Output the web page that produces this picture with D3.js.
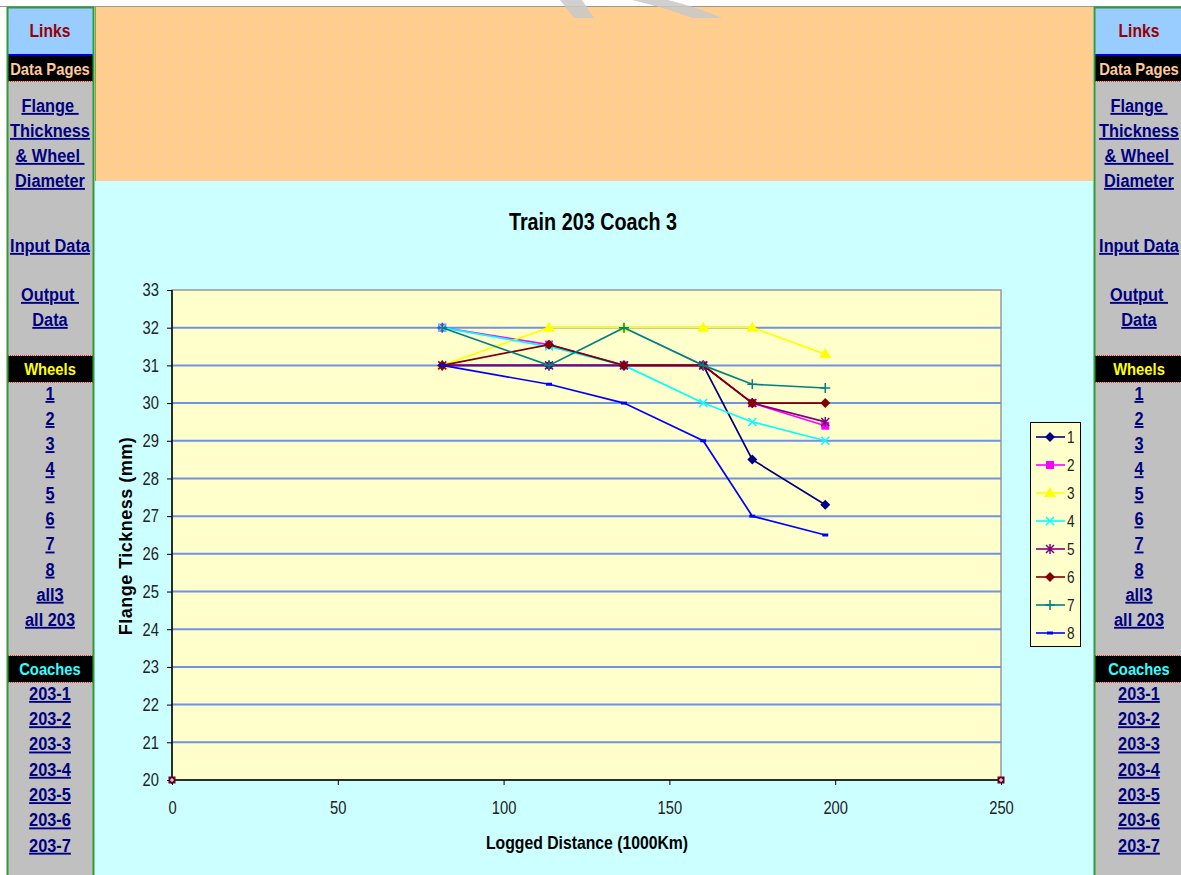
<!DOCTYPE html>
<html>
<head>
<meta charset="utf-8">
<script src="https://cdn.jsdelivr.net/npm/d3@7"></script>
<style>
html,body{margin:0;padding:0;background:#fff;overflow:hidden;}
svg{display:block;}
text{font-family:"Liberation Sans",Arial,sans-serif;}
.link{fill:#000080;text-decoration:underline;white-space:pre;font-weight:bold;}
</style>
</head>
<body>
<svg id="chart" width="1181" height="875"></svg>
<script>
// ---------------- DATA ----------------
const distances = [81.5, 113.7, 136.3, 160.2, 175, 197];
const seriesNames = ["1", "2", "3", "4", "5", "6", "7", "8"];
const wheel1 = [31, 31, 31, 31, 28.5, 27.3];
const wheel2 = [32, 31.55, 31, 31, 30, 29.4];
const wheel3 = [31, 32, 32, 32, 32, 31.3];
const wheel4 = [32, 31.5, 31, 30, 29.5, 29];
const wheel5 = [31, 31, 31, 31, 30, 29.5];
const wheel6 = [31, 31.55, 31, 31, 30, 30];
const wheel7 = [32, 31, 32, 31, 30.5, 30.4];
const wheel8 = [31, 30.5, 30, 29, 27, 26.5];
const cornerX = [0, 250];
const cornerY = [20, 20];
const xTicks = [0, 50, 100, 150, 200, 250];
const yTicks = [20, 21, 22, 23, 24, 25, 26, 27, 28, 29, 30, 31, 32, 33];
const titleText = "Train 203 Coach 3";
const xLabel = "Logged Distance (1000Km)";
const yLabel = "Flange Tickness (mm)";
const dataPageLinks = [["Flange ", "Thickness", "& Wheel ", "Diameter"], ["Input Data"], ["Output ", "Data"]];
const wheelLinks = ["1", "2", "3", "4", "5", "6", "7", "8", "all3", "all 203"];
const coachLinks = ["203-1", "203-2", "203-3", "203-4", "203-5", "203-6", "203-7"];

const allSeries = [wheel1, wheel2, wheel3, wheel4, wheel5, wheel6, wheel7, wheel8];
const colors = ["#000080", "#ff00ff", "#ffff00", "#00ffff", "#800080", "#800000", "#008080", "#0000ff"];
const markerTypes = ["diamond", "square", "triangle", "x", "star", "diamond", "plus", "dash"];

// ---------------- PAGE ----------------
const svg = d3.select("#chart");
const defs = svg.append("defs");
const pat = defs.append("pattern").attr("id", "dots").attr("width", 4).attr("height", 4).attr("patternUnits", "userSpaceOnUse");
pat.append("rect").attr("width", 4).attr("height", 4).attr("fill", "#ffcc99");
pat.append("rect").attr("x", 1).attr("y", 1).attr("width", 1).attr("height", 1).attr("fill", "#ffee00");

// narrow text helper: horizontally condensed text
function ntext(parent, x, y, txt, o) {
  const g = parent.append("g").attr("transform", `translate(${x},${y}) scale(${o.sx || 0.85},1)`);
  const t = g.append("text").attr("x", 0).attr("y", 0).attr("dy", "0.36em")
    .attr("text-anchor", o.anchor || "middle").attr("font-size", o.size)
    .attr("font-weight", o.weight || "normal").attr("fill", o.fill || "#000").text(txt);
  if (o.cls) t.attr("class", o.cls);
  return t;
}

// cyan main area
svg.append("rect").attr("x", 94).attr("y", 7).attr("width", 1000).attr("height", 868).attr("fill", "#ccffff");
// orange header
svg.append("rect").attr("x", 96).attr("y", 7).attr("width", 997).attr("height", 174).attr("fill", "url(#dots)");
svg.append("line").attr("x1", 0).attr("x2", 1181).attr("y1", 6.5).attr("y2", 6.5).attr("stroke", "#999").attr("stroke-width", 1);
svg.append("line").attr("x1", 95.5).attr("x2", 95.5).attr("y1", 7).attr("y2", 181).attr("stroke", "#99994d").attr("stroke-width", 1);

// watermark strokes
svg.append("path").attr("d", "M560,0 L582,0 L594,18 L574,18 Z").attr("fill", "#c8c8c8").attr("opacity", 0.85);
svg.append("path").attr("d", "M632,0 L668,0 Q700,8 722,18 L692,18 Q666,8 632,0 Z").attr("fill", "#c8c8c8").attr("opacity", 0.85);

function sidebar(x0, w, cx) {
  const g = svg.append("g");
  g.append("rect").attr("x", x0).attr("y", 7).attr("width", w).attr("height", 868).attr("fill", "#c0c0c0");
  g.append("rect").attr("x", x0 + 1).attr("y", 8).attr("width", w - 2).attr("height", 47).attr("fill", "#99ccff");
  g.append("rect").attr("x", x0 + 1).attr("y", 54).attr("width", w - 2).attr("height", 2).attr("fill", "#0000dd");
  const band = (y, h, txt, col) => {
    g.append("rect").attr("x", x0 + 1).attr("y", y).attr("width", w - 2).attr("height", h).attr("fill", "#000");
    g.append("line").attr("x1", x0 + 1).attr("x2", x0 + w - 1).attr("y1", y + h + 0.5).attr("y2", y + h + 0.5)
      .attr("stroke", "#ff3333").attr("stroke-dasharray", "1,1");
    ntext(g, cx, y + h / 2, txt, {size: 17, weight: "bold", fill: col, sx: 0.87});
  };
  ntext(g, cx, 31, "Links", {size: 18, weight: "bold", fill: "#990000", sx: 0.87});
  band(56, 25, "Data Pages", "#ffcc99");
  g.append("line").attr("x1", x0 + 1).attr("x2", x0 + w - 1).attr("y1", 355.5).attr("y2", 355.5).attr("stroke", "#ff3333").attr("stroke-dasharray", "1,1");
  band(356, 26, "Wheels", "#ffff00");
  g.append("line").attr("x1", x0 + 1).attr("x2", x0 + w - 1).attr("y1", 655.5).attr("y2", 655.5).attr("stroke", "#ff3333").attr("stroke-dasharray", "1,1");
  band(656, 26, "Coaches", "#33ffff");
  const link = (y, t) => ntext(g, cx, y, t, {size: 19, weight: "bold", sx: 0.86, cls: "link"});
  const groupStarts = [105, 245, 294];
  dataPageLinks.forEach((grp, gi) => grp.forEach((t, i) => link(groupStarts[gi] + i * 25, t)));
  wheelLinks.forEach((t, i) => link(393 + i * 25.1, t));
  coachLinks.forEach((t, i) => link(693 + i * 25.3, t));
  // green border
  g.append("rect").attr("x", x0 + 0.5).attr("y", 7.5).attr("width", w - 1).attr("height", 880).attr("fill", "none")
    .attr("stroke", "#339933").attr("stroke-width", 2);
}
sidebar(7, 87, 50);
sidebar(1094, 96, 1139);

// ---------------- CHART ----------------
const x = d3.scaleLinear().domain([0, 250]).range([172, 1001]);
const y = d3.scaleLinear().domain([20, 33]).range([780, 290]);

ntext(svg, 593, 222, titleText, {size: 23, weight: "bold", sx: 0.86});

svg.append("rect").attr("x", x(0)).attr("y", y(33)).attr("width", x(250) - x(0)).attr("height", y(20) - y(33))
  .attr("fill", "#ffffcc").attr("stroke", "#999").attr("stroke-width", 1.5);

// gridlines
svg.append("g").selectAll("line").data(yTicks.filter(d => d > 20 && d < 33)).join("line")
  .attr("x1", x(0)).attr("x2", x(250)).attr("y1", d => y(d)).attr("y2", d => y(d))
  .attr("stroke", "#6f92e6").attr("stroke-width", 2);

// axes
const tsx = 0.82;
const yAxis = d3.axisLeft(y).tickValues(yTicks).tickSize(5).tickPadding(8).tickFormat(d3.format("d"));
const gy = svg.append("g").attr("transform", `translate(${x(0)},0)`).call(yAxis);
const xAxis = d3.axisBottom(x).tickValues(xTicks).tickSize(5).tickPadding(16).tickFormat(d3.format("d"));
const gx = svg.append("g").attr("transform", `translate(0,${y(20)})`).call(xAxis);
[gx, gy].forEach(g => {
  g.select(".domain").attr("stroke", "#000").attr("stroke-width", 1.5);
  g.selectAll(".tick line").attr("stroke", "#000");
  g.selectAll(".tick text").attr("font-family", "Liberation Sans, Arial, sans-serif").attr("font-size", 18)
    .attr("fill", "#222").attr("transform", `scale(${tsx},1)`);
});
gy.selectAll(".tick text").attr("x", -13 / tsx);
gy.select(".domain").attr("d", `M0,${y(20) + 4}V${y(33)}`);
gx.select(".domain").attr("d", `M${x(0)},0H${x(250)}`);

ntext(svg, 587, 842, xLabel, {size: 19, weight: "bold", sx: 0.83});
svg.append("text").attr("transform", `translate(126,536) rotate(-90)`).attr("dy", "0.36em")
  .attr("text-anchor", "middle").attr("font-size", 18).attr("letter-spacing", 0.5)
  .attr("font-weight", "bold").text(yLabel);

// markers
function drawMarker(g, type, color, cx, cy) {
  if (type === "diamond") {
    g.append("path").attr("d", `M${cx},${cy - 5}L${cx + 5},${cy}L${cx},${cy + 5}L${cx - 5},${cy}Z`)
      .attr("fill", color);
  } else if (type === "square") {
    g.append("rect").attr("x", cx - 4).attr("y", cy - 4).attr("width", 8).attr("height", 8).attr("fill", color);
  } else if (type === "triangle") {
    g.append("path").attr("d", `M${cx},${cy - 6}L${cx + 6},${cy + 4}L${cx - 6},${cy + 4}Z`).attr("fill", color);
  } else if (type === "x") {
    g.append("path").attr("d", `M${cx - 4},${cy - 4}L${cx + 4},${cy + 4}M${cx - 4},${cy + 4}L${cx + 4},${cy - 4}`)
      .attr("stroke", color).attr("stroke-width", 1.5).attr("fill", "none");
  } else if (type === "star") {
    g.append("path").attr("d", `M${cx - 4},${cy - 4}L${cx + 4},${cy + 4}M${cx - 4},${cy + 4}L${cx + 4},${cy - 4}M${cx},${cy - 5}L${cx},${cy + 5}`)
      .attr("stroke", color).attr("stroke-width", 1.5).attr("fill", "none");
  } else if (type === "plus") {
    g.append("path").attr("d", `M${cx - 5},${cy}L${cx + 5},${cy}M${cx},${cy - 5}L${cx},${cy + 5}`)
      .attr("stroke", color).attr("stroke-width", 1.5).attr("fill", "none");
  } else if (type === "dash") {
    g.append("rect").attr("x", cx - 3).attr("y", cy - 1.5).attr("width", 6).attr("height", 3).attr("fill", color);
  }
}

const line = d3.line().x((d, i) => x(distances[i])).y(d => y(d));
const plotG = svg.append("g");
allSeries.forEach((vals, si) => {
  const g = plotG.append("g");
  g.append("path").attr("d", line(vals)).attr("fill", "none").attr("stroke", colors[si]).attr("stroke-width", 1.7);
  vals.forEach((v, i) => drawMarker(g, markerTypes[si], colors[si], x(distances[i]), y(v)));
});

// corner points
cornerX.forEach((cx, i) => {
  svg.append("rect").attr("x", x(cx) - 3.5).attr("y", y(cornerY[i]) - 3.5).attr("width", 7).attr("height", 7).attr("fill", "#660022");
  svg.append("path").attr("d", `M${x(cx) - 2},${y(cornerY[i])}H${x(cx) + 2}M${x(cx)},${y(cornerY[i]) - 2}V${y(cornerY[i]) + 2}`)
    .attr("stroke", "#fff").attr("stroke-width", 1);
});

// legend
const lg = svg.append("g");
lg.append("rect").attr("x", 1030.5).attr("y", 422.5).attr("width", 50).attr("height", 224).attr("fill", "#ffffcc").attr("stroke", "#000");
seriesNames.forEach((nm, i) => {
  const ly = 437 + i * 28;
  lg.append("line").attr("x1", 1036).attr("x2", 1065).attr("y1", ly).attr("y2", ly).attr("stroke", colors[i]).attr("stroke-width", 1.6);
  drawMarker(lg, markerTypes[i], colors[i], 1050, ly);
  ntext(lg, 1067, ly, nm, {size: 16, anchor: "start", fill: "#222", sx: 0.85});
});
</script>
</body>
</html>
